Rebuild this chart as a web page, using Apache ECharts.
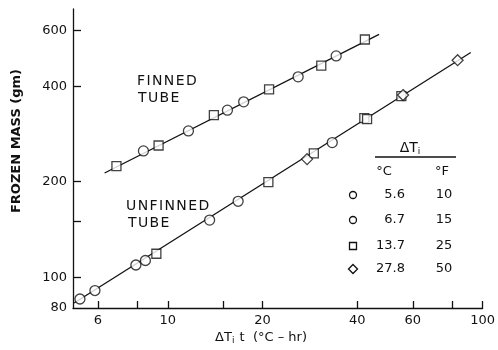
<!DOCTYPE html>
<html><head><meta charset="utf-8">
<script src="https://cdn.jsdelivr.net/npm/echarts@6/dist/echarts.min.js"></script>
<style>html,body{margin:0;padding:0;background:#fff}#c{width:498px;height:350px}</style>
</head><body><div id="c"></div>
<script>
// Axis settings
const xMin = 5, xMax = 100, yMin = 80, yMax = 700;
const xTickValues = [6, 8, 10, 15, 20, 40, 60, 80, 100];
const xLabelValues = [6, 10, 20, 40, 60, 100];
const yTickValues = [100, 150, 200, 400, 600];
const yLabelValues = [80, 100, 200, 400, 600];

// Finned tube
const finnedSquareX = [6.87, 9.35, 14.01, 20.98, 30.73, 42.28];
const finnedSquareY = [224, 260, 324, 391, 464, 561];
const finnedCircleX = [8.37, 11.63, 15.47, 17.42, 25.95, 34.27];
const finnedCircleY = [250, 289, 336, 357, 428, 498];
const finnedLineX = [6.30, 46.9];
const finnedLineY = [213, 582];

// Unfinned tube
const unfinnedCircleX = [5.26, 5.87, 7.92, 8.49, 13.58, 16.73, 33.3];
const unfinnedCircleY = [85.4, 90.8, 109.3, 112.9, 151.4, 173.5, 265.6];
const unfinnedSquareX = [9.20, 20.87, 29.1, 42.1, 42.96, 55.2];
const unfinnedSquareY = [118.6, 199.5, 245.6, 317, 315, 372];
const unfinnedDiamondX = [27.7, 55.9, 83.3];
const unfinnedDiamondY = [235.6, 374.9, 482.9];
const unfinnedLineX = [5.04, 91.7];
const unfinnedLineY = [83, 510.7];

// Legend table
const legendSymbols = ['circle', 'circle', 'rect', 'diamond'];
const legendC = ['5.6', '6.7', '13.7', '27.8'];
const legendF = ['10', '15', '25', '50'];

const ink = '#111';
const FONT = 'DejaVu Sans';
const zip = (xs, ys) => xs.map((x, i) => [x, ys[i]]);

const markerStyle = { color: '#fff', borderColor: ink, borderWidth: 1.3 };
function scatter(xs, ys, symbol, size) {
  return { type: 'scatter', data: zip(xs, ys), symbol: symbol, symbolSize: size,
    itemStyle: markerStyle, z: 5, silent: true };
}
function fitLine(xs, ys) {
  return { type: 'line', data: zip(xs, ys), symbol: 'none',
    lineStyle: { color: ink, width: 1.3 }, z: 3, silent: true };
}

const chart = echarts.init(document.getElementById('c'), null, { renderer: 'canvas' });

const graphics = [];
function txt(text, x, y, opts) {
  graphics.push(Object.assign({ type: 'text', x: x, y: y, style: Object.assign({
    text: text, fill: ink, font: '13px "' + FONT + '"', align: 'left', verticalAlign: 'middle'
  }, opts || {}) }));
}
const HS = '\u200A';
const spaced = s => s.split('').join(HS);
txt(spaced('FINNED'), 137, 81, { font: '14px "' + FONT + '"' });
txt(spaced('TUBE'), 138, 98, { font: '14px "' + FONT + '"' });
txt(spaced('UNFINNED'), 126, 206, { font: '14px "' + FONT + '"' });
txt(spaced('TUBE'), 128, 223, { font: '14px "' + FONT + '"' });

// Y-axis title (rotated)
graphics.push({ type: 'text', x: 17, y: 141, rotation: Math.PI / 2,
  style: { text: 'FROZEN MASS (gm)', fill: ink, font: 'bold 13px "' + FONT + '"', align: 'center', verticalAlign: 'middle' } });
// X-axis title
graphics.push({ type: 'text', x: 261, y: 338,
  style: { text: '{a|ΔT}{s|i}{a| t  (°C – hr)}', align: 'center', verticalAlign: 'middle',
    rich: { a: { fontSize: 13, fontFamily: FONT, fill: ink }, s: { fontSize: 9, fontFamily: FONT, fill: ink, padding: [6, 1, 0, 0] } } } });

// Legend table
graphics.push({ type: 'text', x: 410, y: 148,
  style: { text: '{a|ΔT}{s|i}', align: 'center', verticalAlign: 'middle',
    rich: { a: { fontSize: 14, fontFamily: FONT, fill: ink }, s: { fontSize: 9, fontFamily: FONT, fill: ink, padding: [7, 0, 0, 0] } } } });
graphics.push({ type: 'line', shape: { x1: 375, y1: 157, x2: 456, y2: 157 }, style: { stroke: ink, lineWidth: 1.3 } });
txt('°C', 384, 172, { align: 'center' });
txt('°F', 442, 172, { align: 'center' });
const rowY = [195, 220, 246, 269];
legendSymbols.forEach((s, i) => {
  const y = rowY[i], x = 353;
  const st = { fill: '#fff', stroke: ink, lineWidth: 1.3 };
  if (s === 'circle') graphics.push({ type: 'circle', shape: { cx: x, cy: y, r: 3.5 }, style: st });
  else if (s === 'rect') graphics.push({ type: 'rect', shape: { x: x - 3.5, y: y - 3.5, width: 7, height: 7 }, style: st });
  else graphics.push({ type: 'polygon', shape: { points: [[x, y - 4.5], [x + 4.5, y], [x, y + 4.5], [x - 4.5, y]] }, style: st });
  txt(legendC[i], 405, y, { align: 'right' });
  txt(legendF[i], 444, y, { align: 'center' });
});

const option = {
  backgroundColor: '#fff',
  animation: false,
  grid: { left: 73, right: 12, top: 9, bottom: 42 },
  xAxis: {
    type: 'log', logBase: 10, min: xMin, max: xMax,
    axisLine: { show: true, lineStyle: { color: ink, width: 1.3 } },
    axisTick: { show: true, inside: true, length: 7, customValues: xTickValues, lineStyle: { color: ink, width: 1.3 } },
    minorTick: { show: false },
    axisLabel: { customValues: xLabelValues, margin: 6, fontSize: 13, fontFamily: FONT, color: ink, showMaxLabel: true, hideOverlap: false },
    splitLine: { show: false }
  },
  yAxis: {
    type: 'log', logBase: 10, min: yMin, max: yMax,
    axisLine: { show: true, lineStyle: { color: ink, width: 1.3 } },
    axisTick: { show: true, inside: true, length: 8, customValues: yTickValues, lineStyle: { color: ink, width: 1.3 } },
    minorTick: { show: false },
    axisLabel: { customValues: yLabelValues, margin: 6, fontSize: 13, fontFamily: FONT, color: ink, hideOverlap: false },
    splitLine: { show: false }
  },
  series: [
    fitLine(finnedLineX, finnedLineY),
    fitLine(unfinnedLineX, unfinnedLineY),
    scatter(finnedSquareX, finnedSquareY, 'rect', 9),
    scatter(finnedCircleX, finnedCircleY, 'circle', 10),
    scatter(unfinnedCircleX, unfinnedCircleY, 'circle', 10),
    scatter(unfinnedSquareX, unfinnedSquareY, 'rect', 9),
    scatter(unfinnedDiamondX, unfinnedDiamondY, 'diamond', 11)
  ],
  graphic: graphics
};
chart.setOption(option);
</script></body></html>
